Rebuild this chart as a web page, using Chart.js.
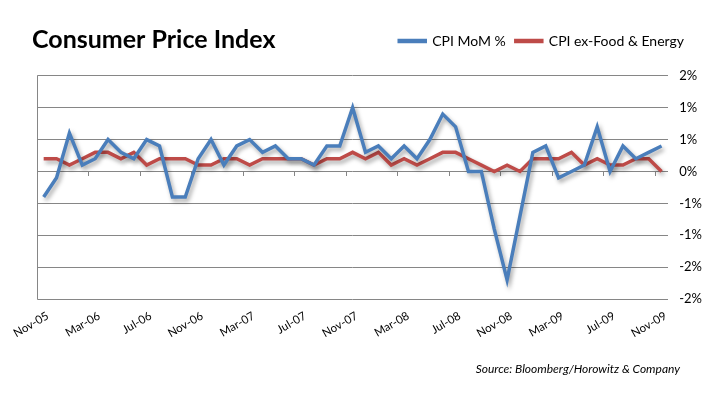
<!DOCTYPE html>
<html>
<head>
<meta charset="utf-8">
<script src="https://cdn.jsdelivr.net/npm/chart.js@4.4.1/dist/chart.umd.min.js"></script>
<style>
  html, body { margin: 0; padding: 0; background: #fff; }
  #wrap { width: 726px; height: 393px; }
</style>
</head>
<body>
<div id="wrap"><canvas id="cpiChart"></canvas></div>
<script>
// data (monthly, % change)
const months = [
  'Nov-05','Dec-05','Jan-06','Feb-06','Mar-06','Apr-06','May-06','Jun-06','Jul-06','Aug-06','Sep-06','Oct-06',
  'Nov-06','Dec-06','Jan-07','Feb-07','Mar-07','Apr-07','May-07','Jun-07','Jul-07','Aug-07','Sep-07','Oct-07',
  'Nov-07','Dec-07','Jan-08','Feb-08','Mar-08','Apr-08','May-08','Jun-08','Jul-08','Aug-08','Sep-08','Oct-08',
  'Nov-08','Dec-08','Jan-09','Feb-09','Mar-09','Apr-09','May-09','Jun-09','Jul-09','Aug-09','Sep-09','Oct-09',
  'Nov-09'
];
const cpiMoM = [
  -0.4, -0.1, 0.6, 0.1, 0.2, 0.5, 0.3, 0.2, 0.5, 0.4, -0.4, -0.4,
  0.2, 0.5, 0.1, 0.4, 0.5, 0.3, 0.4, 0.2, 0.2, 0.1, 0.4, 0.4,
  1.0, 0.3, 0.4, 0.2, 0.4, 0.2, 0.5, 0.9, 0.7, 0.0, 0.0, -0.9,
  -1.7, -0.7, 0.3, 0.4, -0.1, 0.0, 0.1, 0.7, 0.0, 0.4, 0.2, 0.3,
  0.4
];
const cpiCore = [
  0.2, 0.2, 0.1, 0.2, 0.3, 0.3, 0.2, 0.3, 0.1, 0.2, 0.2, 0.2,
  0.1, 0.1, 0.2, 0.2, 0.1, 0.2, 0.2, 0.2, 0.2, 0.1, 0.2, 0.2,
  0.3, 0.2, 0.3, 0.1, 0.2, 0.1, 0.2, 0.3, 0.3, 0.2, 0.1, 0.0,
  0.1, 0.0, 0.2, 0.2, 0.2, 0.3, 0.1, 0.2, 0.1, 0.1, 0.2, 0.2,
  0.0
];
const yMin = -2, yMax = 1.5, yStep = 0.5;
const sourceNote = 'Source: Bloomberg/Horowitz & Company';

const GRID = '#868686';
const FONT = 'Lato, "Open Sans", sans-serif';

// soft drop shadow under the lines, like the Excel original
const lineShadow = {
  id: 'lineShadow',
  beforeDatasetDraw(chart) {
    const c = chart.ctx;
    c.save();
    c.shadowColor = 'rgba(0,0,0,0.35)';
    c.shadowBlur = 4;
    c.shadowOffsetX = 2;
    c.shadowOffsetY = 3;
  },
  afterDatasetDraw(chart) {
    chart.ctx.restore();
  }
};

// source line in the bottom right corner
const sourceText = {
  id: 'sourceText',
  afterDraw(chart) {
    const c = chart.ctx;
    c.save();
    c.font = 'italic 12px ' + FONT;
    c.fillStyle = '#000';
    c.textAlign = 'right';
    c.textBaseline = 'middle';
    c.fillText(sourceNote, chart.chartArea.right + 12, chart.height - 24);
    c.restore();
  }
};

new Chart(document.getElementById('cpiChart'), {
  type: 'line',
  data: {
    labels: months,
    datasets: [{
      label: 'CPI MoM %',
      data: cpiMoM,
      borderColor: '#4A7EBB',
      backgroundColor: '#4A7EBB',
      borderWidth: 3.5,
      pointRadius: 0,
      tension: 0
    }, {
      label: 'CPI ex-Food & Energy',
      data: cpiCore,
      borderColor: '#BE4B48',
      backgroundColor: '#BE4B48',
      borderWidth: 3.5,
      pointRadius: 0,
      tension: 0
    }]
  },
  plugins: [lineShadow, sourceText],
  options: {
    responsive: true,
    maintainAspectRatio: false,
    animation: false,
    layout: { padding: { left: 32, right: 32, top: 24, bottom: 31 } },
    plugins: {
      legend: {
        position: 'top',
        align: 'end',
        weight: 3000,
        labels: {
          color: '#000',
          font: { family: FONT, size: 14 },
          boxWidth: 26,
          boxHeight: 1,
          padding: 10
        }
      },
      title: {
        display: true,
        text: 'Consumer Price Index',
        align: 'start',
        color: '#000',
        font: { family: FONT, size: 25, weight: 'bold' },
        padding: { top: -33, bottom: 20.8 }
      },
      tooltip: { enabled: false }
    },
    scales: {
      x: {
        type: 'category',
        offset: true,
        grid: {
          offset: true,
          drawTicks: false,
          color: ctx => ctx.index === 0 ? GRID : 'rgba(0,0,0,0)'
        },
        border: { display: false },
        ticks: {
          autoSkip: false,
          minRotation: 30,
          maxRotation: 30,
          padding: 10,
          labelOffset: 4,
          color: '#000',
          font: { family: FONT, size: 11.5 },
          callback: (v, i) => i % 4 === 0 ? months[i] : ''
        },
        afterFit: s => { s.height = 63; }
      },
      xZero: {
        type: 'category',
        position: { y: 0 },
        offset: true,
        grid: {
          offset: true,
          drawOnChartArea: false,
          drawTicks: true,
          tickLength: 5,
          color: ctx => (ctx.index > 0 && ctx.index < months.length && ctx.index % 4 === 0) ? GRID : 'rgba(0,0,0,0)'
        },
        border: { display: false },
        ticks: { display: false }
      },
      y: {
        position: 'right',
        min: yMin,
        max: yMax,
        grid: { color: GRID, drawTicks: false },
        border: { display: false },
        ticks: {
          stepSize: yStep,
          mirror: true,
          crossAlign: 'far',
          padding: 34,
          color: '#000',
          font: { family: FONT, size: 13 },
          callback: v => (Math.sign(v) * Math.round(Math.abs(v))) + '%'
        },
        afterFit: s => { s.width = 26; }
      }
    }
  }
});
</script>
</body>
</html>
